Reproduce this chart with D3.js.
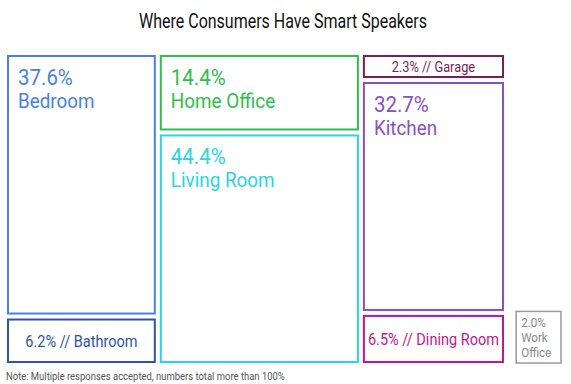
<!DOCTYPE html>
<html>
<head>
<meta charset="utf-8">
<title>Where Consumers Have Smart Speakers</title>
<style>
  body { margin: 0; background: #fff; }
  svg { display: block; font-family: Roboto, "Noto Sans", sans-serif; }
</style>
</head>
<body>
<svg></svg>
<script src="https://d3js.org/d3.v7.min.js"></script>
<script>
// data
const rooms   = ["Bedroom", "Bathroom", "Home Office", "Living Room", "Garage", "Kitchen", "Dining Room", "Work Office"];
const shares  = [37.6, 6.2, 14.4, 44.4, 2.3, 32.7, 6.5, 2.0];
const columns = [0, 0, 1, 1, 2, 2, 2, 3];   // column 3 = the small separate box
const colors  = ["#4a7fe3", "#2e55a3", "#2fbf4b", "#2ad3e6", "#7d1d55", "#8b4fc4", "#c2178f", "#9a9a9a"];

let width = 571, height = 384;
let svg = d3.select("svg").attr("width", width).attr("height", height);

const gap = 6, areaTop = 56, areaBottom = 362, areaLeft = 8, areaRight = 503;

// squeeze text horizontally to get the condensed look of the original
function squeezed(sel, tx, ty, k) {
  return sel.attr("transform", "translate(" + tx + "," + ty + ") scale(" + k + ",1)");
}

// title
squeezed(svg.append("text"), 283, 27.5, 0.8)
  .attr("text-anchor", "middle")
  .attr("font-size", 20)
  .attr("fill", "#111")
  .text("Where Consumers Have Smart Speakers");

// build column totals for the three main columns
let nCols = 3;
let colTotals = d3.range(nCols).map(c => d3.sum(shares.filter((v, i) => columns[i] == c)));
let colStart = d3.range(nCols).map(c => d3.sum(colTotals.slice(0, c)));

let x = d3.scaleLinear()
  .domain([0, d3.sum(colTotals)])
  .range([areaLeft, areaRight - gap * (nCols - 1)]);

let boxes = [];
for (let c = 0; c < nCols; c++) {
  let idx = d3.range(rooms.length).filter(i => columns[i] == c);
  let avail = areaBottom - areaTop - gap * (idx.length - 1);
  let y = d3.scaleLinear().domain([0, colTotals[c]]).range([0, avail]);
  let cum = 0;
  let colBoxes = [];
  idx.forEach((i, k) => {
    let h = Math.max(y(shares[i]), 21);
    colBoxes.push({
      i: i,
      x0: x(colStart[c]) + gap * c,
      x1: x(colStart[c] + colTotals[c]) + gap * c,
      y0: areaTop + cum,
      y1: areaTop + cum + h
    });
    cum += h + gap;
  });
  // give any min-height surplus back to the biggest box
  let over = colBoxes[colBoxes.length - 1].y1 - areaBottom;
  if (over > 0) {
    let big = colBoxes.reduce((a, b) => (b.y1 - b.y0 > a.y1 - a.y0 ? b : a));
    let shift = false;
    colBoxes.forEach(b => {
      if (shift) { b.y0 -= over; b.y1 -= over; }
      if (b === big) { b.y1 -= over; shift = true; }
    });
  }
  boxes = boxes.concat(colBoxes);
}

// the small "Work Office" box, sized from the same area per percent
let areaPerPct = (boxes[0].x1 - boxes[0].x0) * (boxes[0].y1 - boxes[0].y0) / shares[0];
let wi = rooms.indexOf("Work Office");
let side = Math.sqrt(areaPerPct * shares[wi]);
boxes.push({ i: wi, x0: 561 - side, x1: 561, y0: areaBottom + 1 - side * 1.15, y1: areaBottom + 1 });

let g = svg.append("g").selectAll("g")
  .data(boxes)
  .enter()
  .append("g");

g.append("rect")
  .attr("x", d => d.x0)
  .attr("y", d => d.y0)
  .attr("width", d => d.x1 - d.x0)
  .attr("height", d => d.y1 - d.y0)
  .attr("fill", "none")
  .attr("stroke", d => colors[d.i])
  .attr("stroke-width", d => columns[d.i] == 3 ? 1.5 : 2);

g.each(function (d) {
  let el = d3.select(this);
  let col = colors[d.i];
  let h = d.y1 - d.y0;
  if (columns[d.i] == 3) {
    // stacked small label
    let lines = [shares[d.i].toFixed(1) + "%"].concat(rooms[d.i].split(" "));
    lines.forEach((t, k) => {
      squeezed(el.append("text"), d.x0 + 5, d.y0 + 15.5 + k * 15, 0.86)
        .attr("font-size", 13.5)
        .attr("fill", "#8a8a8a")
        .text(t);
    });
  } else if (h < 50) {
    let fs = h < 30 ? 15 : 17;
    squeezed(el.append("text"), (d.x0 + d.x1) / 2, (d.y0 + d.y1) / 2 + fs * 0.36, 0.855)
      .attr("text-anchor", "middle")
      .attr("font-size", fs)
      .attr("fill", col)
      .text(shares[d.i].toFixed(1) + "% // " + rooms[d.i]);
  } else {
    squeezed(el.append("text"), d.x0 + 10, d.y0 + 29, 0.93)
      .attr("font-size", 22)
      .attr("fill", col)
      .text(shares[d.i].toFixed(1) + "%");
    squeezed(el.append("text"), d.x0 + 10, d.y0 + 52, 0.92)
      .attr("font-size", 20.5)
      .attr("fill", col)
      .text(rooms[d.i]);
  }
});

// footnote
squeezed(svg.append("text"), 6, 379.5, 0.86)
  .attr("font-size", 11)
  .attr("fill", "#555")
  .text("Note: Multiple responses accepted, numbers total more than 100%");
</script>
</body>
</html>
